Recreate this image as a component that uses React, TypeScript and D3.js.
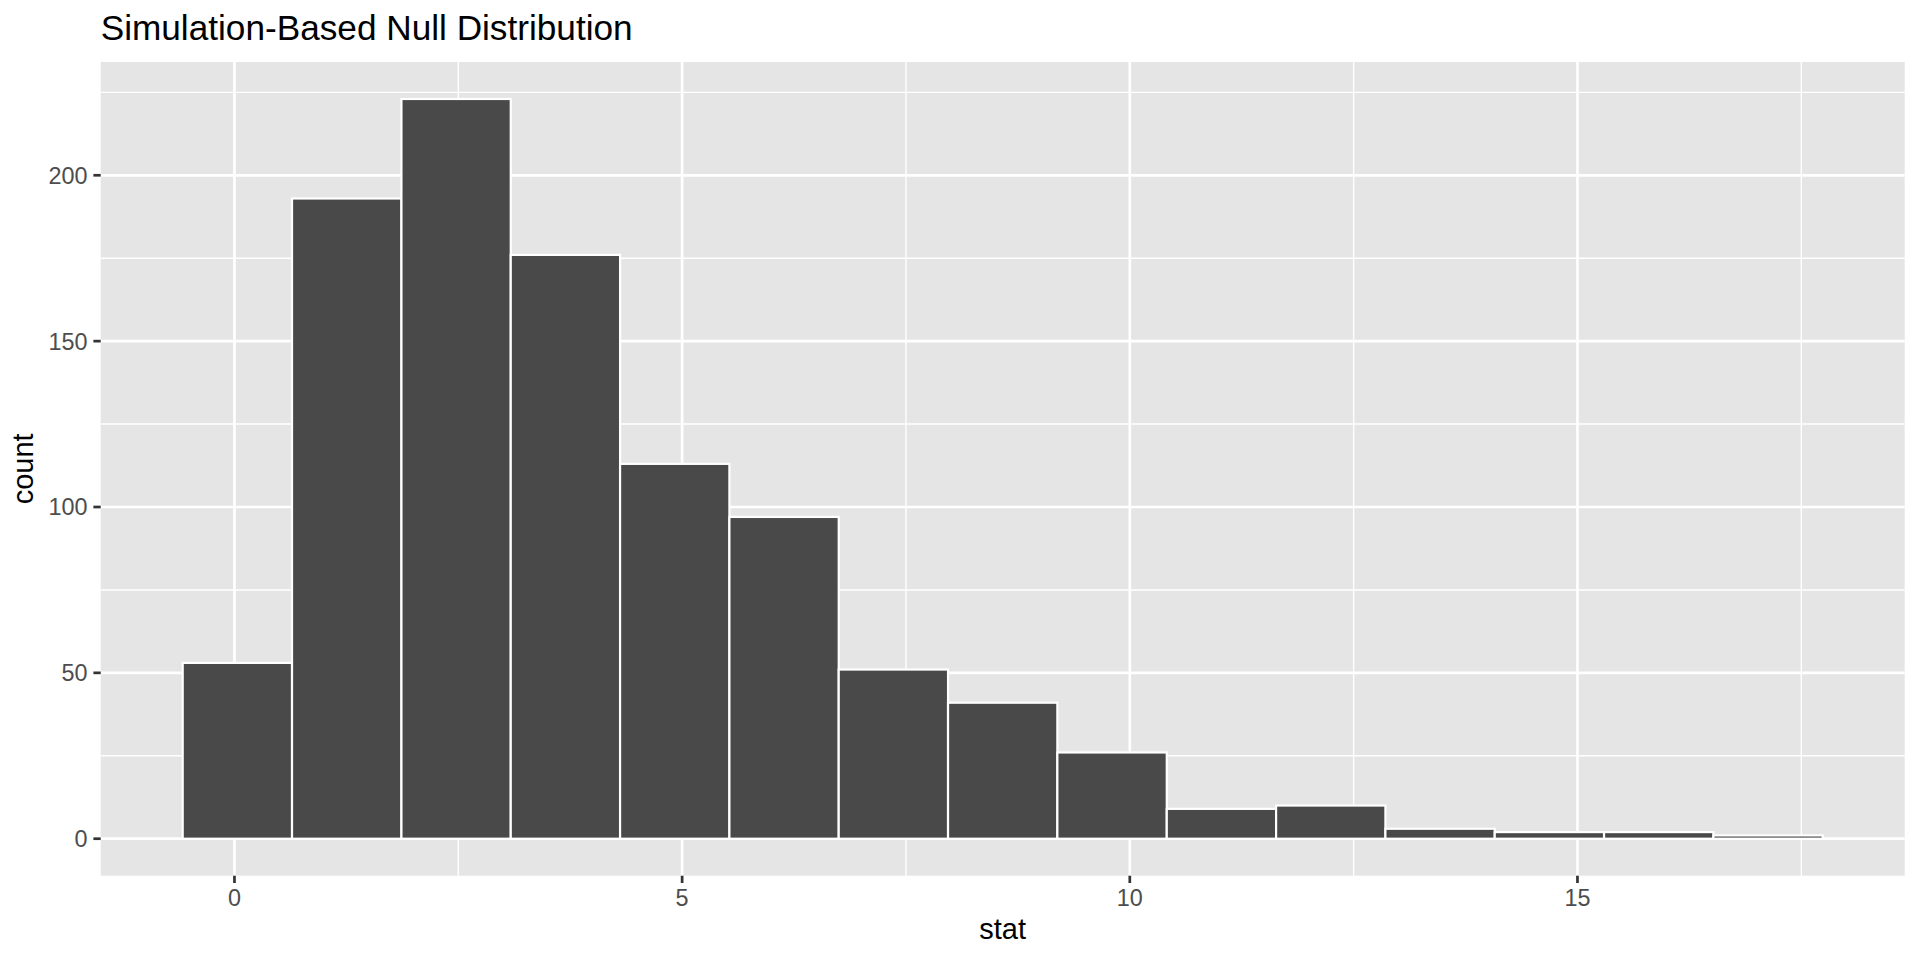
import React from "react";
import * as d3 from "d3";

const title = "Simulation-Based Null Distribution";
const xLabel = "stat";
const yLabel = "count";

// bin edges (stat) and counts
const binEdges = [-0.578, 0.643, 1.865, 3.086, 4.307, 5.528, 6.749, 7.97, 9.191, 10.413, 11.634, 12.855, 14.076, 15.297, 16.518, 17.739];
const counts = [53, 193, 223, 176, 113, 97, 51, 41, 26, 9, 10, 3, 2, 2, 1];

const xMajor = [0, 5, 10, 15];
const xMinor = [2.5, 7.5, 12.5, 17.5];
const yMajor = [0, 50, 100, 150, 200];
const yMinor = [25, 75, 125, 175, 225];

const W = 1920;
const H = 960;
const panel = { left: 100.7, right: 1904.7, top: 62, bottom: 875.7 };
const FONT = "'Liberation Sans', Arial, Helvetica, sans-serif";

export default function App() {
  const xlo = d3.min(binEdges)!;
  const xhi = d3.max(binEdges)!;
  const xr = xhi - xlo;
  const x = d3
    .scaleLinear()
    .domain([xlo - 0.05 * xr, xhi + 0.05 * xr])
    .range([panel.left, panel.right]);
  const ymax = d3.max(counts)!;
  const y = d3
    .scaleLinear()
    .domain([-0.05 * ymax, ymax * 1.05])
    .range([panel.bottom, panel.top]);

  const bars = counts.map((c, i) => ({ x0: binEdges[i], x1: binEdges[i + 1], c }));

  return (
    <svg
      width={W}
      height={H}
      style={{ position: "absolute", left: 0, top: 0, display: "block", background: "#fff" }}
      fontFamily={FONT}
    >
      <rect
        x={panel.left}
        y={panel.top}
        width={panel.right - panel.left}
        height={panel.bottom - panel.top}
        fill="#E5E5E5"
      />
      {xMinor.map((v) => (
        <line key={"xm" + v} x1={x(v)} x2={x(v)} y1={panel.top} y2={panel.bottom} stroke="#fff" strokeWidth={1.4} />
      ))}
      {yMinor.map((v) => (
        <line key={"ym" + v} x1={panel.left} x2={panel.right} y1={y(v)} y2={y(v)} stroke="#fff" strokeWidth={1.4} />
      ))}
      {xMajor.map((v) => (
        <line key={"xM" + v} x1={x(v)} x2={x(v)} y1={panel.top} y2={panel.bottom} stroke="#fff" strokeWidth={2.7} />
      ))}
      {yMajor.map((v) => (
        <line key={"yM" + v} x1={panel.left} x2={panel.right} y1={y(v)} y2={y(v)} stroke="#fff" strokeWidth={2.7} />
      ))}
      {bars.map((b, i) => (
        <rect
          key={"b" + i}
          x={x(b.x0)}
          y={y(b.c)}
          width={x(b.x1) - x(b.x0)}
          height={y(0) - y(b.c)}
          fill="#494949"
          stroke="#fff"
          strokeWidth={2.2}
        />
      ))}
      {xMajor.map((v) => (
        <g key={"xt" + v}>
          <line x1={x(v)} x2={x(v)} y1={panel.bottom} y2={panel.bottom + 7.3} stroke="#333" strokeWidth={2.7} />
          <text x={x(v)} y={906} textAnchor="middle" fontSize={23.4} fill="#4D4D4D">
            {v}
          </text>
        </g>
      ))}
      {yMajor.map((v) => (
        <g key={"yt" + v}>
          <line x1={panel.left - 7.3} x2={panel.left} y1={y(v)} y2={y(v)} stroke="#333" strokeWidth={2.7} />
          <text x={87.5} y={y(v)} dy="0.36em" textAnchor="end" fontSize={23.4} fill="#4D4D4D">
            {v}
          </text>
        </g>
      ))}
      <text x={(panel.left + panel.right) / 2} y={939} textAnchor="middle" fontSize={29} fill="#000">
        {xLabel}
      </text>
      <text
        transform={`translate(33,${(panel.top + panel.bottom) / 2}) rotate(-90)`}
        textAnchor="middle"
        fontSize={29}
        fill="#000"
      >
        {yLabel}
      </text>
      <text x={panel.left} y={40} fontSize={35.2} fill="#000">
        {title}
      </text>
    </svg>
  );
}
